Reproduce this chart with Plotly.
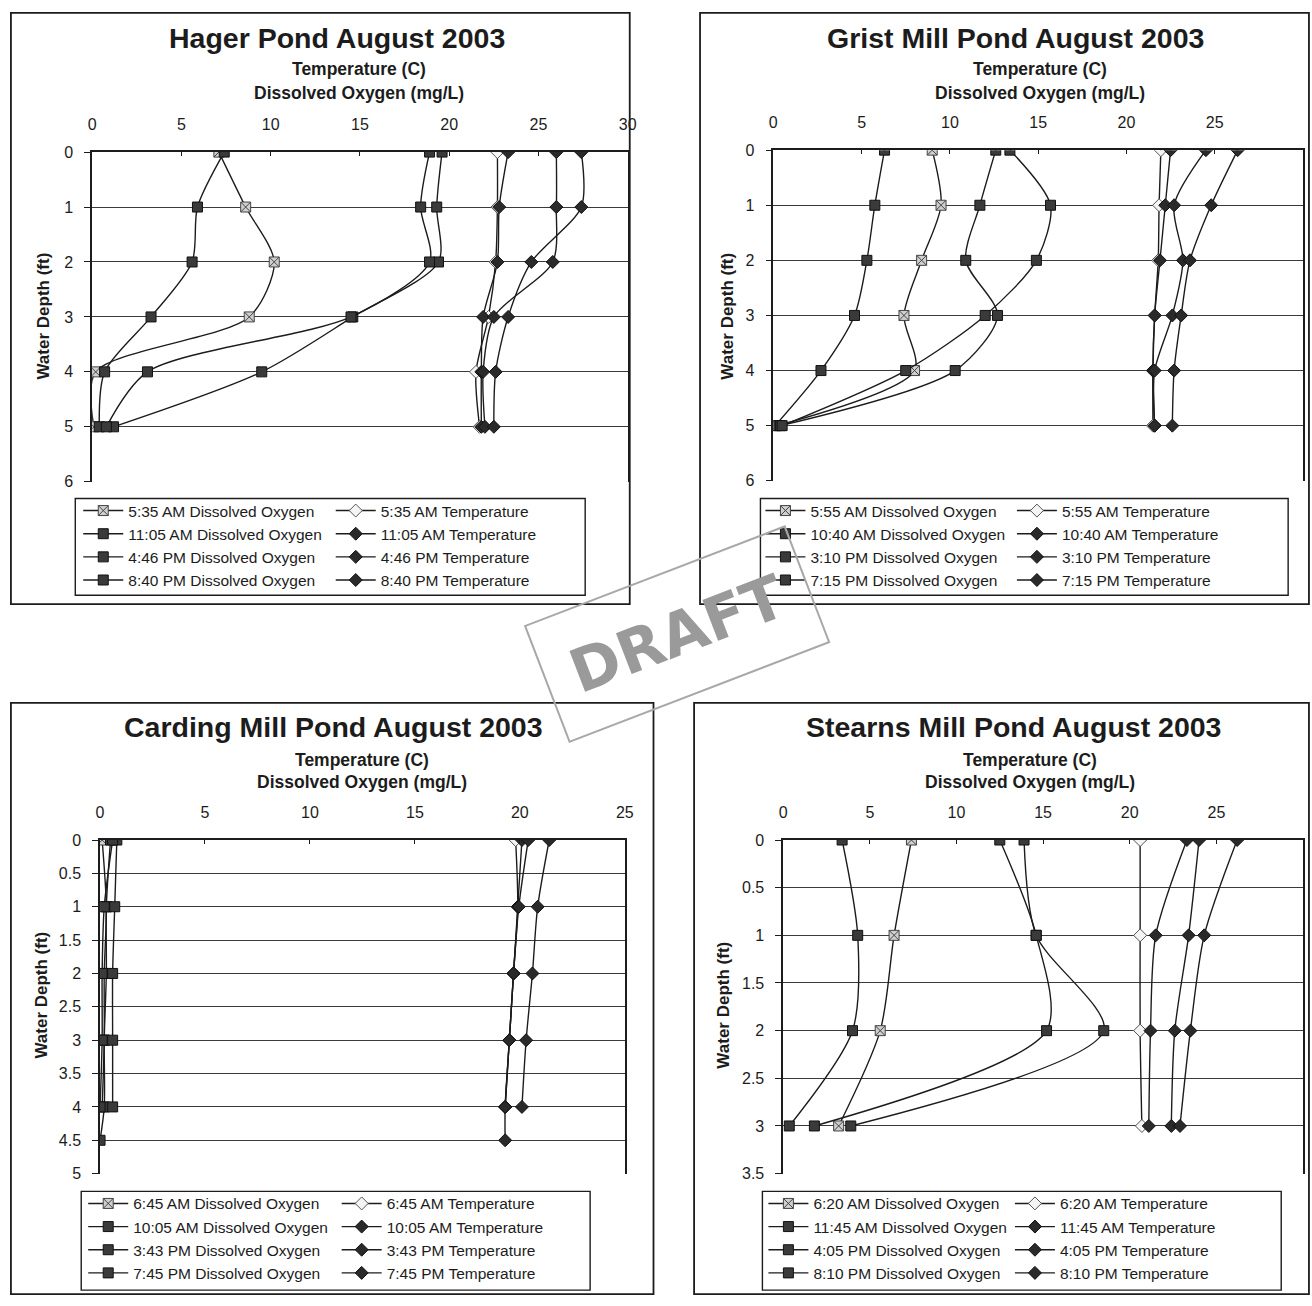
import plotly.graph_objects as go

W, H = 1312, 1306

# ---------------- data ----------------
hager_depth = [0, 1, 2, 3, 4, 5]
hager_times = ["5:35 AM", "11:05 AM", "4:46 PM", "8:40 PM"]
hager_do = [
    [7.1, 8.6, 10.2, 8.8, 0.2, 0.1],
    [7.4, 5.9, 5.6, 3.3, 0.7, 0.4],
    [19.6, 19.3, 19.4, 14.6, 9.5, 1.2],
    [18.9, 18.4, 18.9, 14.5, 3.1, 0.8],
]
hager_temp = [
    [22.7, 22.7, 22.6, 22.2, 21.5, 21.7],
    [23.3, 22.8, 22.7, 21.9, 21.8, 21.8],
    [26.0, 26.0, 25.8, 22.5, 21.9, 22.0],
    [27.4, 27.4, 24.6, 23.3, 22.6, 22.5],
]

grist_depth = [0, 1, 2, 3, 4, 5]
grist_times = ["5:55 AM", "10:40 AM", "3:10 PM", "7:15 PM"]
grist_do = [
    [9.0, 9.5, 8.4, 7.4, 8.0, 0.2],
    [6.3, 5.75, 5.3, 4.6, 2.7, 0.1],
    [12.6, 11.7, 10.9, 12.7, 10.3, 0.4],
    [13.4, 15.7, 14.9, 12.0, 7.5, 0.5],
]
grist_temp = [
    [21.95, 21.85, 21.8, 21.6, 21.5, 21.5],
    [22.5, 22.2, 21.9, 21.6, 21.5, 21.6],
    [24.5, 22.7, 23.2, 22.6, 21.6, 21.6],
    [26.3, 24.8, 23.6, 23.1, 22.7, 22.6],
]

carding_depth = [0, 1, 2, 3, 4, 4.5]
carding_times = ["6:45 AM", "10:05 AM", "3:43 PM", "7:45 PM"]
carding_do = [
    [0.1, 0.3, 0.2, 0.2, 0.1],
    [0.5, 0.3, 0.3, 0.2, 0.2, 0.0],
    [0.8, 0.7, 0.6, 0.6, 0.6],
    [0.6, 0.2, 0.1, 0.1, 0.0],
]
carding_temp = [
    [19.8, 19.9, 19.7, 19.5, 19.3],
    [20.1, 19.9, 19.7, 19.5, 19.3, 19.3],
    [20.4, 19.95, 19.7, 19.5, 19.3],
    [21.4, 20.85, 20.6, 20.3, 20.1],
]

stearns_depth = [0, 1, 2, 3]
stearns_times = ["6:20 AM", "11:45 AM", "4:05 PM", "8:10 PM"]
stearns_do = [
    [7.4, 6.4, 5.6, 3.2],
    [3.4, 4.3, 4.0, 0.35],
    [12.5, 14.6, 15.2, 1.8],
    [13.9, 14.6, 18.5, 3.9],
]
stearns_temp = [
    [20.6, 20.6, 20.6, 20.7],
    [23.3, 21.5, 21.2, 21.1],
    [24.0, 23.4, 22.6, 22.4],
    [26.2, 24.3, 23.5, 22.9],
]

# ---------------- helpers ----------------
FONT = "Liberation Sans, Arial, sans-serif"
INK = "#1c1c1c"


def px(x):
    return x / W


def py(y):
    return 1 - y / H


fig = go.Figure()


def add_pond(k, times, do_vals, temp_vals, depths):
    xa = "x" if k == 1 else f"x{k}"
    ya = "y" if k == 1 else f"y{k}"
    leg_do = "legend" if k == 1 else f"legend{2 * k - 1}"
    leg_t = f"legend{2 * k}"
    for i, (t, vals) in enumerate(zip(times, do_vals)):
        if i == 0:
            mk = dict(symbol="square-x", size=10, color="#cfcfcf",
                      line=dict(color="#444", width=1))
        else:
            mk = dict(symbol="square", size=10, color="#3a3a3a",
                      line=dict(color="#111", width=1))
        fig.add_trace(go.Scatter(
            x=vals, y=depths[:len(vals)], xaxis=xa, yaxis=ya, mode="lines+markers",
            name=f"{t} Dissolved Oxygen", legend=leg_do,
            line=dict(color=INK, width=1.4, shape="spline", smoothing=0.8),
            marker=mk))
    for i, (t, vals) in enumerate(zip(times, temp_vals)):
        if i == 0:
            mk = dict(symbol="diamond", size=10, color="#f4f4f4",
                      line=dict(color="#555", width=1))
        else:
            mk = dict(symbol="diamond", size=10, color="#2a2a2a",
                      line=dict(color="#111", width=1))
        fig.add_trace(go.Scatter(
            x=vals, y=depths[:len(vals)], xaxis=xa, yaxis=ya, mode="lines+markers",
            name=f"{t} Temperature", legend=leg_t,
            line=dict(color=INK, width=1.4, shape="spline", smoothing=0.8),
            marker=mk))


add_pond(1, hager_times, hager_do, hager_temp, hager_depth)
add_pond(2, grist_times, grist_do, grist_temp, grist_depth)
add_pond(3, carding_times, carding_do, carding_temp, carding_depth)
add_pond(4, stearns_times, stearns_do, stearns_temp, stearns_depth)


def xaxis_cfg(dom, rng, anchor):
    return dict(domain=dom, range=rng, side="top", anchor=anchor,
                showline=True, linecolor=INK, linewidth=1.5,
                ticks="inside", ticklen=4, tickcolor=INK, dtick=5, tick0=0,
                showgrid=False, zeroline=False,
                tickfont=dict(size=16, color=INK, family=FONT),
                ticklabelstandoff=14)


def yaxis_cfg(dom, rng, dt, anchor):
    return dict(domain=dom, range=rng, anchor=anchor, dtick=dt, tick0=0,
                showline=True, mirror=True, linecolor=INK, linewidth=1.5,
                ticks="outside", ticklen=6, tickcolor=INK,
                showgrid=True, gridcolor="#3a3a3a", gridwidth=1.3,
                zeroline=False,
                tickfont=dict(size=16, color=INK, family=FONT),
                ticklabelstandoff=8)


layout = dict(
    width=W, height=H, margin=dict(l=0, r=0, t=0, b=0),
    paper_bgcolor="white", plot_bgcolor="white",
    font=dict(family=FONT, color=INK),
    xaxis=xaxis_cfg([px(89), px(630)], [0, 30], "y"),
    yaxis=yaxis_cfg([py(480), py(146)], [6, 0], 1, "x"),
    xaxis2=xaxis_cfg([px(777), 1.0], [0, 30], "y2"),
    yaxis2=yaxis_cfg([py(479), py(144)], [6, 0], 1, "x2"),
    xaxis3=xaxis_cfg([px(97), px(627)], [0, 25], "y3"),
    yaxis3=yaxis_cfg([py(1181), py(843)], [5, 0], 0.5, "x3"),
    xaxis4=xaxis_cfg([px(787), 1.0], [0, 30], "y4"),
    yaxis4=yaxis_cfg([py(1181), py(843)], [3.5, 0], 0.5, "x4"),
)


def leg(xtext, yrow1):
    return dict(x=px(xtext - 50), y=py(yrow1 - 16.6), xanchor="left", yanchor="top",
                bgcolor="rgba(0,0,0,0)", borderwidth=0, itemwidth=40,
                font=dict(size=15.5, color=INK, family=FONT), tracegroupgap=0,
                orientation="v")


layout["legend"] = leg(125, 509)
layout["legend2"] = leg(380, 509)
layout["legend3"] = leg(814, 509)
layout["legend4"] = leg(1068, 509)
layout["legend5"] = leg(130, 1211)
layout["legend6"] = leg(386, 1211)
layout["legend7"] = leg(817, 1211)
layout["legend8"] = leg(1066, 1211)

fig.update_layout(**layout)

# ---------------- text ----------------
ann = []


def text(x, y, s, size, bold=True, angle=0):
    ann.append(dict(x=px(x), y=py(y), xref="paper", yref="paper",
                    text=f"<b>{s}</b>" if bold else s, showarrow=False,
                    xanchor="center", yanchor="middle", textangle=angle,
                    font=dict(size=size, color=INK, family=FONT)))


text(336, 30, "Hager Pond August 2003", 28.5)
text(1022, 30, "Grist Mill Pond August 2003", 28.5)
text(333, 728, "Carding Mill Pond August 2003", 28.5)
text(1020, 728, "Stearns Mill Pond August 2003", 28.5)

for cx, y1, y2 in [(359, 62, 86), (1046, 62, 86), (362, 762, 784), (1036, 762, 784)]:
    text(cx, y1, "Temperature (C)", 17.5)
    text(cx, y2, "Dissolved Oxygen (mg/L)", 17.5)

text(40, 312, "Water Depth (ft)", 17, angle=-90)
text(731, 312, "Water Depth (ft)", 17, angle=-90)
text(38, 1000, "Water Depth (ft)", 17, angle=-90)
text(727, 1010, "Water Depth (ft)", 17, angle=-90)

# DRAFT stamp
ann.append(dict(x=px(680), y=py(634), xref="paper", yref="paper",
                text="<b>DRAFT</b>", showarrow=False, textangle=-21,
                font=dict(size=60, color="#9a9a9a", family="DejaVu Sans, sans-serif"),
                bordercolor="#a8a8a8", borderwidth=2, borderpad=26))

fig.update_layout(annotations=ann)

# ---------------- boxes ----------------
shapes = []


def rect(x0, y0, x1, y1, w=1.8):
    shapes.append(dict(type="rect", xref="paper", yref="paper",
                       x0=px(x0), x1=px(x1), y0=py(y1), y1=py(y0),
                       line=dict(color=INK, width=w), fillcolor="rgba(0,0,0,0)",
                       layer="above"))


rect(7, 5, 632, 604)
rect(703, 5, 1318, 604)
rect(7, 704, 656, 1303)
rect(697, 704, 1318, 1303)
rect(72, 497, 587, 595, 1.4)
rect(764, 497, 1297, 595, 1.4)
rect(78, 1199, 592, 1299, 1.4)
rect(766, 1199, 1290, 1299, 1.4)
fig.update_layout(shapes=shapes)

fig.write_html(
    "out.html",
    config={"displayModeBar": False},
    post_script="document.body.style.margin='0';document.body.style.overflow='hidden';",
)
